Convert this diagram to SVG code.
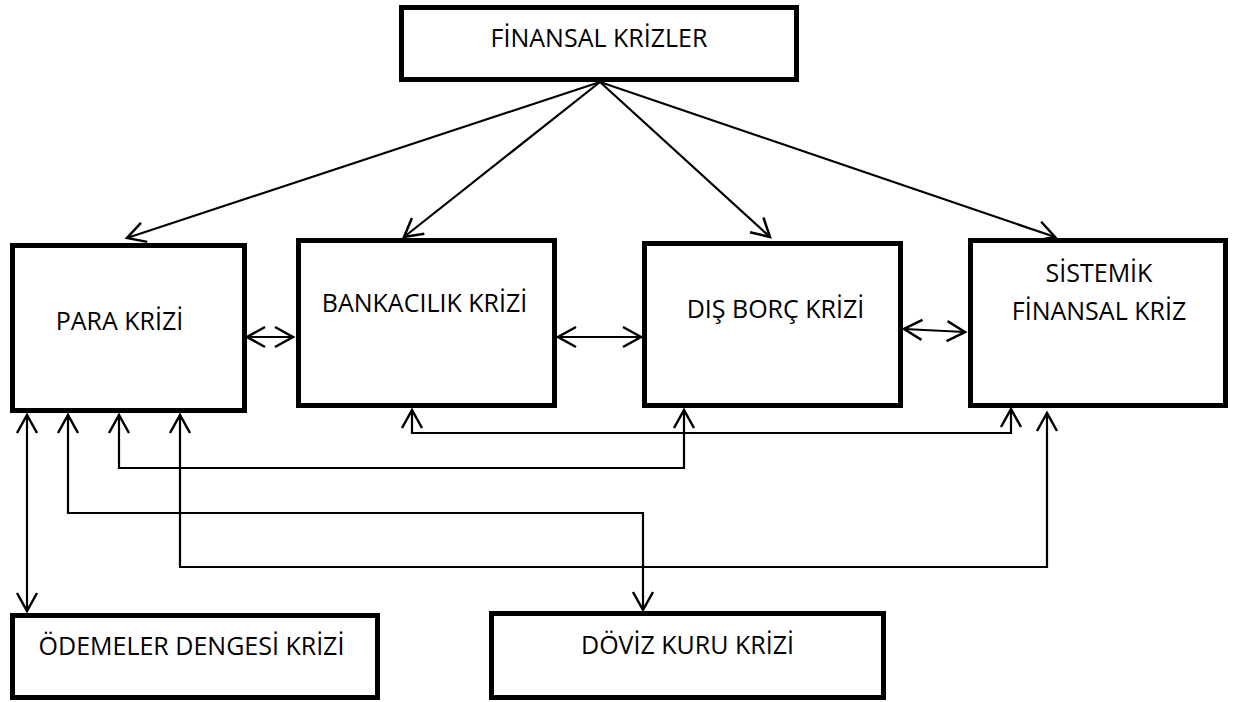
<svg xmlns="http://www.w3.org/2000/svg" width="1237" height="702" viewBox="0 0 1237 702">
<style>
.box{fill:#fff;stroke:#000;stroke-width:5}
.lbl{font-family:"Open Sans","Noto Sans",sans-serif;font-size:25px;fill:#000;text-anchor:middle}
.con{fill:none;stroke:#000;stroke-width:2.2}
.arr{marker-end:url(#ah)}
.dbl{marker-start:url(#ah);marker-end:url(#ah)}
</style>
<defs>
<marker id="ah" markerUnits="userSpaceOnUse" markerWidth="24" markerHeight="24" refX="0" refY="0" viewBox="-22 -12 24 24" orient="auto-start-reverse" overflow="visible">
<path d="M-18,-10 L0,0 L-18,10" fill="none" stroke="#000" stroke-width="2.5"/>
</marker>
</defs>
<rect width="1237" height="702" fill="#fff"/>
<g id="connectors">
<line class="con arr" x1="600" y1="82" x2="127" y2="238"/>
<line class="con arr" x1="600" y1="82" x2="404" y2="237"/>
<line class="con arr" x1="600" y1="82" x2="770" y2="237"/>
<line class="con arr" x1="600" y1="82" x2="1055" y2="237"/>
<line class="con dbl" x1="247" y1="337" x2="293" y2="337"/>
<line class="con dbl" x1="558" y1="337" x2="641" y2="337"/>
<line class="con dbl" x1="904" y1="329" x2="965" y2="332"/>
<line class="con dbl" x1="27" y1="415" x2="27" y2="611"/>
<polyline class="con dbl" points="68,415 68,513 643,513 643,610"/>
<polyline class="con dbl" points="119,415 119,468 684,468 684,410"/>
<polyline class="con dbl" points="180,415 180,567 1047,567 1047,413"/>
<polyline class="con dbl" points="412,410 412,433 1011,433 1011,409"/>
</g>
<g id="finansal-krizler">
<rect class="box" x="401.5" y="7.5" width="395" height="72"/>
<text class="lbl" x="599" y="47">FİNANSAL KRİZLER</text>
</g>
<g id="para-krizi">
<rect class="box" x="12.5" y="245.5" width="232" height="165"/>
<text class="lbl" x="119.5" y="330">PARA KRİZİ</text>
</g>
<g id="bankacilik-krizi">
<rect class="box" x="298.5" y="240.5" width="256" height="165"/>
<text class="lbl" x="424.5" y="312">BANKACILIK KRİZİ</text>
</g>
<g id="dis-borc-krizi">
<rect class="box" x="644.5" y="243.5" width="256" height="162"/>
<text class="lbl" x="775.5" y="318">DIŞ BORÇ KRİZİ</text>
</g>
<g id="sistemik-finansal-kriz">
<rect class="box" x="970.5" y="240.5" width="255" height="165"/>
<text class="lbl" x="1099" y="282">SİSTEMİK</text>
<text class="lbl" x="1099" y="320">FİNANSAL KRİZ</text>
</g>
<g id="odemeler-dengesi-krizi">
<rect class="box" x="12.5" y="615.5" width="365" height="82"/>
<text class="lbl" x="191.5" y="655">ÖDEMELER DENGESİ KRİZİ</text>
</g>
<g id="doviz-kuru-krizi">
<rect class="box" x="491.5" y="613.5" width="392" height="84"/>
<text class="lbl" x="687.5" y="654">DÖVİZ KURU KRİZİ</text>
</g>
</svg>
